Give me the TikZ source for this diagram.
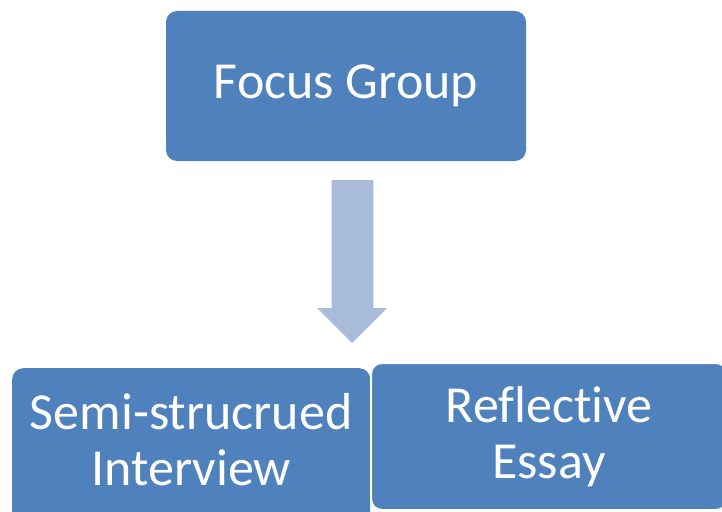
\documentclass[tikz,border=0pt]{standalone}
\usepackage{fontspec}
\setmainfont[Ligatures=NoCommon]{Carlito}
\usepackage{tikz}
\usetikzlibrary{positioning}

\definecolor{boxblue}{HTML}{4F81BD}
\definecolor{arrowblue}{HTML}{A8BBDA}

\tikzset{
    box/.style={rectangle, rounded corners=11pt, fill=boxblue, text=white,
        align=center, inner sep=0pt, font=\fontsize{52}{56}\selectfont},
}

\begin{document}
\begin{tikzpicture}[x=1pt, y=-1pt]
    \useasboundingbox (0, 0) rectangle (722, 511);
    \clip (0, 0) rectangle (722, 511);

    % top box
    \node[box, minimum width=360, minimum height=150] (focus) at (346, 86) {Focus Group};

    % bottom boxes
    \node[box, minimum width=358, minimum height=170, text depth=28pt, anchor=north west] (semi) at (12, 368) {Semi-strucrued\\Interview};
    \node[box, draw=white, line width=2pt, minimum width=356, minimum height=147, anchor=north west] (essay) at (370, 362) {Reflective\\Essay};

    % block arrow
    \coordinate (arrtop) at (352.5, 180);
    \fill[arrowblue] (arrtop) ++(-20.8, 0) -- ++(41.6, 0) -- ++(0, 128) -- ++(13.7, 0)
        -- (352, 343) -- (317, 308) -- ++(14.7, 0) -- cycle;
\end{tikzpicture}
\end{document}
